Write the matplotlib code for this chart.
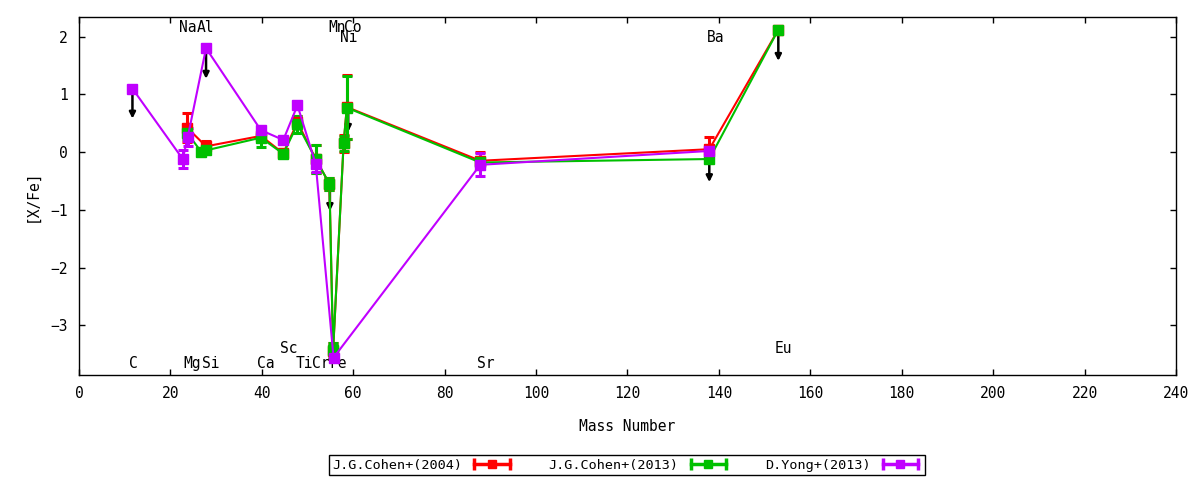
import matplotlib
matplotlib.use("Agg")
import matplotlib.pyplot as plt
from matplotlib.lines import Line2D
from matplotlib.legend_handler import HandlerLine2D

plt.rcParams["font.family"] = "DejaVu Sans Mono"
plt.rcParams["font.size"] = 10

# J.G.Cohen+(2004)
red_x = [23.7, 27.8, 39.8, 44.7, 47.8, 51.8, 54.8, 55.6, 57.9, 58.6, 87.8, 137.9, 153.0]
red_y = [0.42, 0.10, 0.28, -0.02, 0.52, -0.12, -0.55, -3.45, 0.15, 0.78, -0.15, 0.05, 2.12]
red_err = [0.25, 0.10, 0.05, 0.05, 0.10, 0.25, 0.10, 0.14, 0.15, 0.55, 0.15, 0.22, 0.0]

# J.G.Cohen+(2013)
green_x = [23.7, 26.8, 27.8, 39.8, 44.7, 47.8, 51.8, 54.8, 55.6, 57.9, 58.6, 87.8, 137.9, 153.0]
green_y = [0.33, 0.00, 0.03, 0.25, -0.03, 0.48, -0.12, -0.55, -3.43, 0.15, 0.77, -0.18, -0.12, 2.12]
green_err = [0.10, 0.05, 0.05, 0.17, 0.05, 0.15, 0.25, 0.10, 0.12, 0.13, 0.55, 0.10, 0.05, 0.0]

# D.Yong+(2013)
purple_x = [11.7, 22.7, 23.8, 27.8, 39.8, 44.7, 47.8, 51.8, 55.7, 87.8, 137.9]
purple_y = [1.10, -0.12, 0.26, 1.80, 0.38, 0.21, 0.81, -0.21, -3.56, -0.22, 0.02]
purple_err = [0.0, 0.16, 0.16, 0.0, 0.04, 0.04, 0.04, 0.13, 0.05, 0.20, 0.05]

# upper limits (arrows)
lim_x = [11.7, 27.8, 54.9, 58.9, 137.9, 153.0]
lim_y0 = [1.10, 1.80, -0.55, 0.85, -0.10, 2.12]
lim_y1 = [0.58, 1.27, -1.02, 0.35, -0.52, 1.58]

# element labels
elem_names = ["Na", "Al", "Mn", "Co", "Ni", "Ba", "C", "Mg", "Si", "Ca", "Ti", "Cr", "Fe", "Sr", "Sc", "Eu"]
elem_x = [23.7, 27.6, 56.4, 60.0, 59.1, 139.2, 11.9, 24.8, 28.9, 40.8, 49.3, 53.0, 56.6, 88.9, 46.0, 154.1]
elem_y = [2.16, 2.16, 2.16, 2.16, 1.99, 1.99, -3.66, -3.66, -3.66, -3.66, -3.66, -3.66, -3.66, -3.66, -3.41, -3.41]

labels = ["J.G.Cohen+(2004)", "J.G.Cohen+(2013)", "D.Yong+(2013)"]
colors = ["#ff0000", "#00c000", "#c000ff"]

fig = plt.figure(figsize=(12, 4.8), dpi=100)
ax = fig.add_axes([0.0658, 0.2188, 0.9142, 0.7458])

series = [(red_x, red_y, red_err), (green_x, green_y, green_err), (purple_x, purple_y, purple_err)]
for (xs, ys, es), c in zip(series, colors):
    ax.errorbar(xs, ys, yerr=es, fmt="-s", color=c, lw=1.5, ms=7.5,
                elinewidth=2.2, capsize=3.5, capthick=2.2, zorder=3)

for x, y0, y1 in zip(lim_x, lim_y0, lim_y1):
    ax.annotate("", xy=(x, y1), xytext=(x, y0),
                arrowprops=dict(arrowstyle="-|>", color="black", lw=1.8,
                                mutation_scale=9, shrinkA=0, shrinkB=0), zorder=1)

for name, x, y in zip(elem_names, elem_x, elem_y):
    ax.text(x, y, name, ha="center", va="center", fontsize=10.5)

ax.set_xlim(0, 240)
ax.set_ylim(-3.86, 2.34)
ax.set_xticks(range(0, 241, 20))
ax.set_yticks([-3, -2, -1, 0, 1, 2])
ax.tick_params(direction="in", length=4, width=1, top=True, right=True, labelsize=10.5, pad=8)
for s in ax.spines.values():
    s.set_linewidth(1)
ax.set_xlabel("Mass Number", fontsize=10.5, labelpad=13)
ax.set_ylabel("[X/Fe]", fontsize=10.5, labelpad=8)

handles = []
hmap = {}
for c in colors:
    cap = Line2D([], [], color=c, lw=2.5, marker="|", markersize=9, mew=2.5)
    sq = Line2D([], [], color=c, marker="s", markersize=6, linestyle="none")
    hmap[cap] = HandlerLine2D(numpoints=2)
    hmap[sq] = HandlerLine2D(numpoints=1)
    handles.append((cap, sq))

leg = fig.legend(handles, labels, handler_map=hmap, loc="center", bbox_to_anchor=(0.5225, 0.031),
                 ncol=3, markerfirst=False, fancybox=False, framealpha=1, edgecolor="black",
                 handlelength=3.2, handletextpad=0.6, columnspacing=2.6, borderpad=0.25,
                 fontsize=9.7)
leg.get_frame().set_linewidth(1)

fig.savefig("out.png", dpi=100)
